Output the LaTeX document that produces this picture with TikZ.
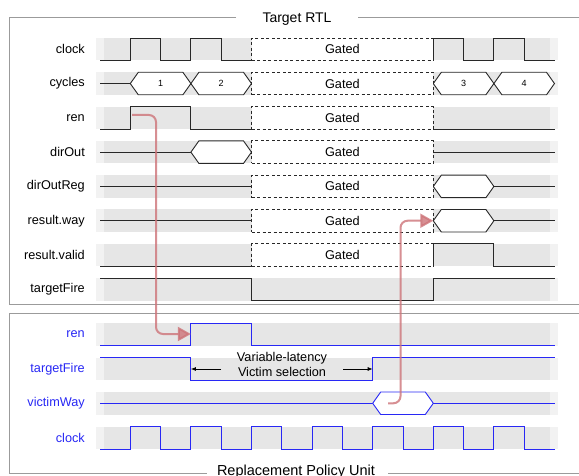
\documentclass[tikz,border=0pt]{standalone}
\usepackage{fontspec}
\setmainfont{Liberation Sans}
\usetikzlibrary{arrows.meta}
\definecolor{bandD}{RGB}{230,230,230}
\definecolor{bandL}{RGB}{242,242,242}
\definecolor{sigc}{RGB}{40,40,40}
\definecolor{bluec}{RGB}{40,40,245}
\definecolor{redc}{RGB}{205,115,120}
\definecolor{framec}{RGB}{155,155,155}
\newcommand\myband[1]{\fill[bandL] (96,#1) rectangle (558,{#1+22.5}); \fill[bandD] (104,#1) rectangle (550,{#1+22.5});}
\newcommand\myhex[5]{\filldraw[#5,fill=white] (#1,{(#3+#4)/2}) -- ({#1+8},#3) -- ({#2-8},#3) -- (#2,{(#3+#4)/2}) -- ({#2-8},#4) -- ({#1+8},#4) -- cycle;}
\begin{document}
\begin{tikzpicture}[x=1pt,y=-1pt, font=\fontsize{12.7}{15}\selectfont,
 lbl/.style={anchor=east,inner sep=0pt,text=black},
 blbl/.style={lbl,text=bluec},
 sig/.style={draw=sigc,line width=0.9pt},
 bsig/.style={draw=bluec,line width=0.9pt},
 gatebox/.style={draw=sigc,dash pattern=on 3pt off 2.5pt,line width=0.8pt,fill=white,minimum width=181.8pt,minimum height=22.5pt,inner sep=0pt},
 num/.style={font=\fontsize{9}{10}\selectfont,inner sep=0pt},
 frame/.style={draw=framec,line width=1pt},
 redarr/.style={draw=redc,line width=2pt,rounded corners=7pt,opacity=0.8,-{Triangle[length=13pt,width=14pt]}},
 annarr/.style={-{Latex[length=5pt,width=4pt]},line width=0.8pt,draw=black}
]
\useasboundingbox (0,0) rectangle (579,476);
\fill[white] (0,0) rectangle (579,476);
% bands
\foreach \t in {38,72.3,106.6,140.9,175.2,209.5,243.8,278.1,323,357.5,392,426.5} {\myband{\t}}
% ---- top signals
\draw[sig] (100,60.5) -- (130.3,60.5) -- (130.3,38) -- (160.6,38) -- (160.6,60.5) -- (190.9,60.5) -- (190.9,38) -- (221.2,38) -- (221.2,60.5) -- (251.5,60.5);
\draw[sig] (433.3,60.5) -- (433.3,38) -- (463.6,38) -- (463.6,60.5) -- (493.9,60.5) -- (493.9,38) -- (524.2,38) -- (524.2,60.5) -- (554.5,60.5);
% cycles
\draw[sig] (100,83.55) -- (130.3,83.55);
\myhex{130.3}{190.9}{72.3}{94.8}{sig}
\myhex{190.9}{251.5}{72.3}{94.8}{sig}
\myhex{433.3}{493.9}{72.3}{94.8}{sig}
\myhex{493.9}{554.5}{72.3}{94.8}{sig}
\node[num] (c1) at (160.6,83.55) {1};
\node[num] (c2) at (221.2,83.55) {2};
\node[num] (c3) at (463.6,83.55) {3};
\node[num] (c4) at (524.2,83.55) {4};
% ren
\draw[sig] (100,129.1) -- (130.3,129.1) -- (130.3,106.6) -- (190.9,106.6) -- (190.9,129.1) -- (251.5,129.1);
\draw[sig] (433.3,129.1) -- (554.5,129.1);
% dirOut
\draw[sig] (100,152.15) -- (190.9,152.15);
\myhex{190.9}{251.5}{140.9}{163.4}{sig}
\draw[sig] (433.3,152.15) -- (554.5,152.15);
% dirOutReg
\draw[sig] (100,186.45) -- (251.5,186.45);
\myhex{433.3}{493.9}{175.2}{197.7}{sig}
\draw[sig] (493.9,186.45) -- (554.5,186.45);
% result.way
\draw[sig] (100,220.75) -- (251.5,220.75);
\myhex{433.3}{493.9}{209.5}{232}{sig}
\draw[sig] (493.9,220.75) -- (554.5,220.75);
% result.valid
\draw[sig] (100,266.3) -- (251.5,266.3);
\draw[sig] (433.3,266.3) -- (433.3,243.8) -- (493.9,243.8) -- (493.9,266.3) -- (554.5,266.3);
% targetFire
\draw[sig] (100,278.1) -- (251.5,278.1) -- (251.5,300.6) -- (433.3,300.6) -- (433.3,278.1) -- (554.5,278.1);
% gated boxes
\foreach \c/\n in {49.25/g0,83.55/g1,117.85/g2,152.15/g3,186.45/g4,220.75/g5,255.05/g6}
  {\node[gatebox] (\n) at (342.4,\c) {Gated};}
% top labels
\node[lbl] (l0) at (85,49.25) {clock};
\node[lbl] (l1) at (85,83.55) {cycles};
\node[lbl] (l2) at (85,117.85) {ren};
\node[lbl] (l3) at (85,152.15) {dirOut};
\node[lbl] (l4) at (85,186.45) {dirOutReg};
\node[lbl] (l5) at (85,220.75) {result.way};
\node[lbl] (l6) at (85,255.05) {result.valid};
\node[lbl] (l7) at (85,289.35) {targetFire};
% ---- bottom signals
\draw[bsig] (100,345.5) -- (190.9,345.5) -- (190.9,323) -- (251.5,323) -- (251.5,345.5) -- (554.5,345.5);
\draw[bsig] (100,357.5) -- (190.9,357.5) -- (190.9,380) -- (372.7,380) -- (372.7,357.5) -- (554.5,357.5);
\draw[bsig] (100,403.25) -- (372.7,403.25);
\myhex{372.7}{433.3}{392}{414.5}{bsig}
\draw[bsig] (433.3,403.25) -- (554.5,403.25);
\draw[bsig] (100,449) \foreach \k in {0,...,6} { -- ({130.3+60.6*\k},449) -- ({130.3+60.6*\k},426.5) -- ({160.6+60.6*\k},426.5) -- ({160.6+60.6*\k},449) } -- (554.5,449);
\node[blbl] (b0) at (85,334.25) {ren};
\node[blbl] (b1) at (85,368.75) {targetFire};
\node[blbl] (b2) at (85,403.25) {victimWay};
\node[blbl] (b3) at (85,437.75) {clock};
% annotation
\node[align=center,inner sep=0pt] (ann) at (282,364.5) {Variable-latency\\Victim selection};
\coordinate (annL) at (221,369);
\coordinate (annR) at (343,369);
\coordinate (tfFall) at (190.9,369);
\coordinate (tfRise) at (372.7,369);
\draw[annarr] (annL) -- (tfFall);
\draw[annarr] (annR) -- (tfRise);
% frames
\draw[frame] (236,18) -- (9,18) -- (9,304.5) -- (579,304.5);
\draw[frame] (358,18) -- (579,18);
\node[font=\fontsize{14}{16}\selectfont, inner sep=0pt, anchor=base] (t1) at (297,22.5) {Target RTL};
\draw[frame] (579,313) -- (9,313) -- (9,473) -- (207,473);
\draw[frame] (388,473) -- (579,473);
\node[font=\fontsize{14.5}{16}\selectfont, inner sep=0pt, anchor=base] (t2) at (296,475.4) {Replacement Policy Unit};
% red arrows
\coordinate (renHi) at (132,115);
\coordinate (renLo) at (190.9,334);
\coordinate (vwS) at (388,403.25);
\coordinate (rwIn) at (433.3,220.75);
\draw[redarr] (renHi) -- (156,115) -- (156,334) -- (renLo);
\draw[redarr] (vwS) -- (400.5,403.25) -- (400.5,220.75) -- (rwIn);
\end{tikzpicture}
\end{document}
